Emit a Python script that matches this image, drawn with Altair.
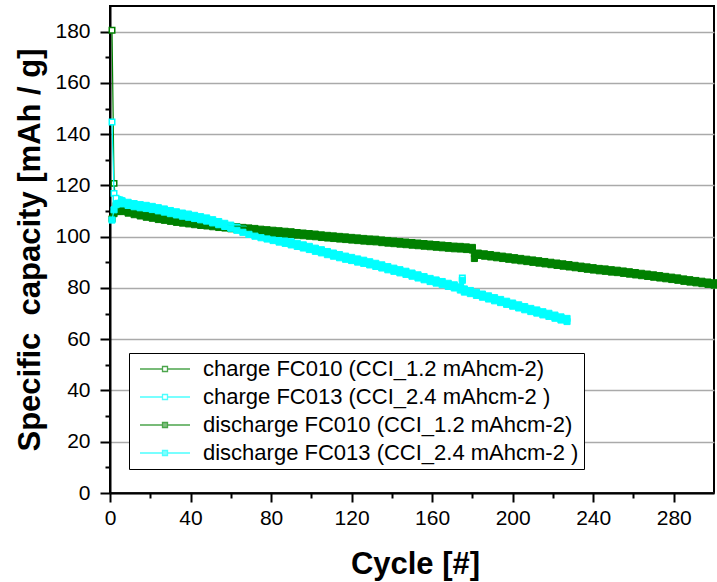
import altair as alt
import pandas as pd

FONT = "Liberation Sans"
GREEN = "#008000"
CYAN = "#00FFFF"

names = [
    "charge FC010 (CCI_1.2 mAhcm-2)",
    "charge FC013 (CCI_2.4 mAhcm-2 )",
    "discharge FC010 (CCI_1.2 mAhcm-2)",
    "discharge FC013 (CCI_2.4 mAhcm-2 )",
]

green_cycles = [1, 2, 3, 4, 5, 6] + list(range(9, 181, 3)) + [181] + list(range(183, 301, 3))
cyan_cycles = [1, 2, 3, 4, 5, 6] + list(range(9, 175, 3)) + [175] + list(range(176, 228, 3))

green_discharge = [
    107.0, 109.0, 109.8, 110.0, 110.0, 109.8,
    109.2, 108.6, 108.1, 107.6, 107.2, 106.7, 106.4, 106.0, 105.6, 105.3,
    105.0, 104.7, 104.4, 104.2, 103.9, 103.6, 103.4, 103.1, 102.9, 102.6,
    102.4, 102.2, 101.9, 101.7, 101.5, 101.3, 101.1, 100.9, 100.6, 100.4,
    100.2, 100.0, 99.7, 99.5, 99.3, 99.1, 98.9, 98.7, 98.5, 98.3,
    98.1, 98.0, 97.7, 97.5, 97.3, 97.1, 96.9, 96.7, 96.5, 96.3,
    96.1, 95.9, 95.7, 95.5, 95.3, 95.2, 95.0, 94.8,
    91.5,
    92.7, 92.4, 92.1, 91.8, 91.5, 91.2, 90.9, 90.6, 90.3, 90.0,
    89.7, 89.4, 89.1, 88.8, 88.5, 88.2, 87.9, 87.6, 87.3, 87.0,
    86.7, 86.5, 86.2, 86.0, 85.7, 85.4, 85.1, 84.8, 84.5, 84.2,
    83.9, 83.6, 83.3, 83.0, 82.6, 82.3, 82.0, 81.7, 81.4, 81.1,
]

green_charge = [
    180.5, 120.8, 112.0, 111.2, 111.0, 110.8,
    110.2, 109.6, 109.1, 108.6, 108.2, 107.7, 107.4, 107.0, 106.6, 106.3,
    106.0, 105.7, 105.4, 105.2, 104.9, 104.6, 104.4, 104.1, 103.9, 103.6,
    103.4, 103.2, 102.9, 102.7, 102.5, 102.3, 102.1, 101.9, 101.6, 101.4,
    101.2, 101.0, 100.7, 100.5, 100.3, 100.1, 99.9, 99.7, 99.5, 99.3,
    99.1, 99.0, 98.7, 98.5, 98.3, 98.1, 97.9, 97.7, 97.5, 97.3,
    97.1, 96.9, 96.7, 96.5, 96.3, 96.2, 96.0, 95.8,
    93.4,
    93.6, 93.3, 93.0, 92.7, 92.4, 92.1, 91.8, 91.5, 91.2, 90.9,
    90.6, 90.3, 90.0, 89.7, 89.4, 89.1, 88.8, 88.5, 88.2, 87.9,
    87.6, 87.4, 87.1, 86.9, 86.6, 86.3, 86.0, 85.7, 85.4, 85.1,
    84.8, 84.5, 84.2, 83.9, 83.5, 83.2, 82.9, 82.6, 82.3, 82.0,
]

cyan_discharge = [
    106.5, 110.5, 112.5, 113.0, 113.0, 112.8,
    112.2, 111.7, 111.3, 111.0, 110.6, 110.1, 109.6, 109.0, 108.5, 108.0,
    107.6, 107.1, 106.6, 106.1, 105.4, 104.7, 104.0, 103.3, 102.5, 101.7,
    100.9, 100.2, 99.6, 99.1, 98.5, 97.9, 97.4, 96.8, 96.2, 95.6,
    95.0, 94.3, 93.7, 93.0, 92.4, 91.8, 91.2, 90.7, 90.1, 89.6,
    89.0, 88.4, 87.8, 87.1, 86.5, 85.9, 85.3, 84.6, 83.9, 83.2,
    82.5, 81.9, 81.3, 80.6, 80.0, 79.2,
    83.0,
    78.4, 77.8, 77.1, 76.4, 75.7, 75.0, 74.3, 73.6, 72.9, 72.2,
    71.5, 70.8, 70.2, 69.5, 68.9, 68.2, 67.5, 66.9,
]

cyan_charge = [
    144.7, 116.9, 115.0, 114.5, 114.3, 114.0,
    113.4, 112.9, 112.5, 112.2, 111.8, 111.3, 110.8, 110.2, 109.7, 109.2,
    108.8, 108.3, 107.8, 107.3, 106.6, 105.9, 105.2, 104.5, 103.7, 102.9,
    102.1, 101.4, 100.8, 100.3, 99.7, 99.1, 98.6, 98.0, 97.4, 96.8,
    96.2, 95.5, 94.9, 94.2, 93.6, 93.0, 92.4, 91.9, 91.3, 90.8,
    90.2, 89.6, 89.0, 88.3, 87.7, 87.1, 86.5, 85.8, 85.1, 84.4,
    83.7, 83.1, 82.5, 81.8, 81.2, 80.4,
    83.9,
    79.6, 79.0, 78.3, 77.6, 76.9, 76.2, 75.5, 74.8, 74.1, 73.4,
    72.7, 72.0, 71.4, 70.7, 70.1, 69.4, 68.7, 68.1,
]

# charge points that stand out from the dense band (drawn as open squares)
open_charge_cycles = [1, 2, 3, 175]

x_ticks = [0, 40, 80, 120, 160, 200, 240, 280]
x_minor = [20, 60, 100, 140, 180, 220, 260]
y_ticks = [0, 20, 40, 60, 80, 100, 120, 140, 160, 180]
y_minor = [10, 30, 50, 70, 90, 110, 130, 150, 170]

series_defs = [
    (names[0], green_cycles, green_charge, GREEN, False),
    (names[1], cyan_cycles, cyan_charge, CYAN, False),
    (names[2], green_cycles, green_discharge, GREEN, True),
    (names[3], cyan_cycles, cyan_discharge, CYAN, True),
]

df = pd.concat(
    [pd.DataFrame({"series": n, "cycle": c, "capacity": v}) for n, c, v, _, _ in series_defs],
    ignore_index=True,
)
df["open"] = df["cycle"].isin(open_charge_cycles) & df["series"].str.startswith("charge")

x_scale = alt.Scale(domain=[0, 300], nice=False, zero=False)
y_scale = alt.Scale(domain=[0, 190], nice=False)

layers = []

axis_layer = alt.Chart(df).transform_filter("datum.cycle < 0").mark_point(opacity=0).encode(
    x=alt.X("cycle:Q", scale=x_scale, axis=alt.Axis(
        values=x_ticks, title="Cycle [#]", orient="bottom", grid=False, labelFlush=False,
        tickSize=9, tickWidth=2, tickColor="black", domainColor="black", domainWidth=2,
        labelFont=FONT, labelFontSize=21, labelColor="black", labelPadding=5,
        titleFont=FONT, titleFontSize=31, titleFontWeight="bold", titleColor="black",
        titleX=305, titleY=80, titleBaseline="alphabetic")),
    y=alt.Y("capacity:Q", scale=y_scale, axis=alt.Axis(
        values=y_ticks, title="Specific\u00a0 capacity [mAh / g]", orient="left",
        grid=True, gridColor="#aaaaaa", gridWidth=1.5, labelFlush=False,
        tickSize=10, tickWidth=2, tickColor="black", domainColor="black", domainWidth=2,
        labelFont=FONT, labelFontSize=21, labelColor="black", labelPadding=10,
        titleFont=FONT, titleFontSize=31, titleFontWeight="bold", titleColor="black",
        titleX=-71, titleBaseline="alphabetic")),
)
layers.append(axis_layer)

minor_layer = alt.Chart(df).transform_filter("datum.cycle < 0").mark_point(opacity=0).encode(
    x=alt.X("cycle:Q", scale=x_scale, axis=alt.Axis(
        values=x_minor, title=None, orient="bottom", labels=False, grid=False, domain=False,
        tickSize=5, tickWidth=2, tickColor="black")),
    y=alt.Y("capacity:Q", scale=y_scale, axis=alt.Axis(
        values=y_minor, title=None, orient="left", labels=False, grid=False, domain=False,
        tickSize=5, tickWidth=2, tickColor="black")),
)
layers.append(minor_layer)

for n, c, v, col, filled in series_defs:
    base = alt.Chart(df).transform_filter(alt.datum.series == n)
    enc = dict(
        x=alt.X("cycle:Q", scale=x_scale, axis=None),
        y=alt.Y("capacity:Q", scale=y_scale, axis=None),
    )
    line = base.mark_line(color=col, strokeWidth=1.2).encode(**enc)
    layers.append(line)
    solid = base.transform_filter("!datum.open").mark_point(
        shape="square", size=38, filled=True, fill=col, stroke=col,
        strokeWidth=1, opacity=1, fillOpacity=1).encode(**enc)
    layers.append(solid)
    if not filled:
        hollow = base.transform_filter("datum.open").mark_point(
            shape="square", size=30, filled=True, fill="white", stroke=col,
            strokeWidth=1.5, opacity=1, fillOpacity=1).encode(**enc)
        layers.append(hollow)

sym_path = "M-1,0L3.5,0M4.5,0L9,0M3.5,-0.5L4.5,-0.5L4.5,0.5L3.5,0.5Z"

leg = alt.Legend(
    title=None, orient="none", legendX=19, legendY=347,
    labelFont=FONT, labelFontSize=22, labelColor="black", labelOffset=47, labelLimit=600,
    symbolSize=100, symbolStrokeWidth=1.3,
    strokeColor="black", fillColor="white", padding=5, rowPadding=6,
)

legend_layer = alt.Chart(df).transform_filter("datum.cycle < 0").mark_point(filled=True, strokeWidth=1.3).encode(
    x=alt.X("cycle:Q", scale=x_scale, axis=None),
    y=alt.Y("capacity:Q", scale=y_scale, axis=None),
    shape=alt.Shape("series:N", scale=alt.Scale(domain=names, range=[sym_path] * 4), legend=leg),
    stroke=alt.Stroke("series:N", scale=alt.Scale(domain=names, range=[GREEN, CYAN, GREEN, CYAN]), legend=leg),
    fill=alt.Fill("series:N", scale=alt.Scale(domain=names, range=["white", "white", GREEN, CYAN]), legend=leg),
)
layers.append(legend_layer)

chart = alt.layer(*layers).resolve_axis(x="independent", y="independent").properties(
    width=604, height=487, autosize="none",
    padding={"left": 110, "top": 6, "right": 3, "bottom": 89},
    background="white",
).configure_view(stroke="black", strokeWidth=2)

chart.save("out.html", embed_options={"renderer": "svg", "actions": False})
